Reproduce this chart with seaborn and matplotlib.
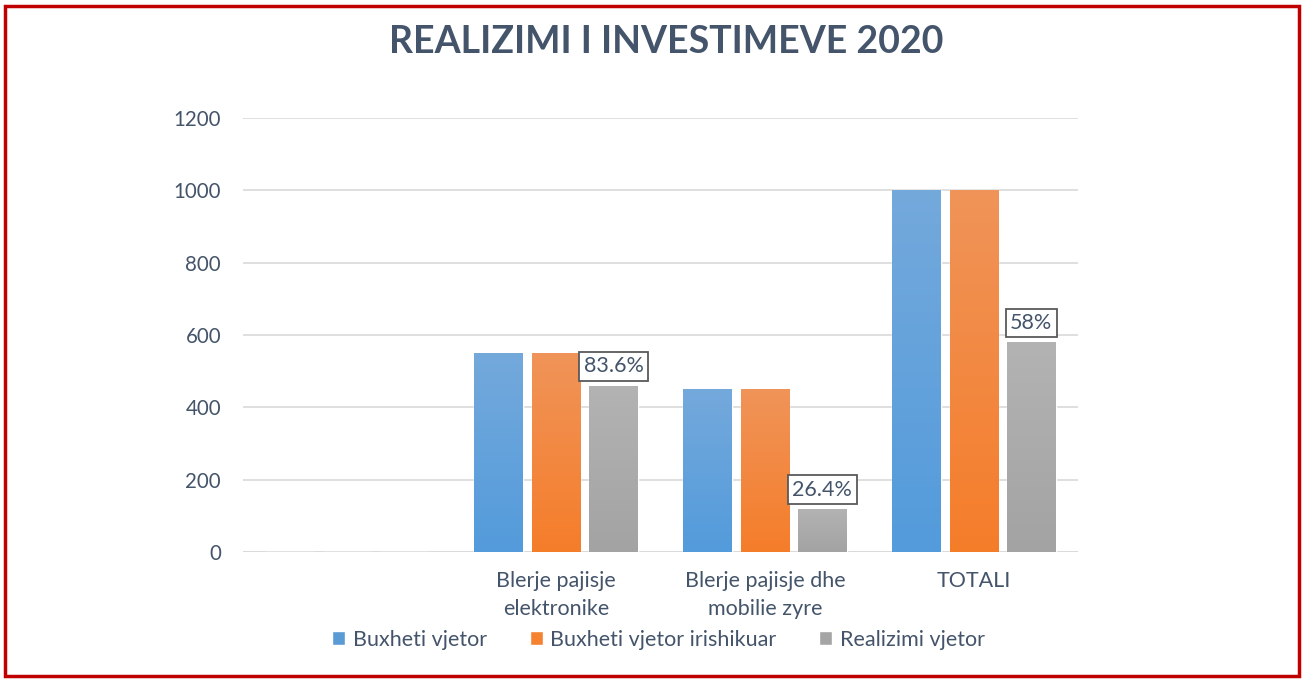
import numpy as np
import pandas as pd
import matplotlib
matplotlib.use("Agg")
import matplotlib.pyplot as plt
import seaborn as sns
from matplotlib.colors import LinearSegmentedColormap, to_rgb
from matplotlib.patches import Rectangle

categories = ["", "Blerje pajisje\nelektronike", "Blerje pajisje dhe\nmobilie zyre", "TOTALI"]
series = ["Buxheti vjetor", "Buxheti vjetor irishikuar", "Realizimi vjetor"]
buxheti = [0, 550, 450, 1000]
irishikuar = [0, 550, 450, 1000]
realizimi = [0, 460, 119, 580]
pct_labels = ["", "83.6%", "26.4%", "58%"]

colors = ["#5B9BD5", "#F58230", "#A5A5A5"]
tops = ["#74A9DC", "#F09459", "#B3B3B3"]
bottoms = ["#539BDB", "#F57D2A", "#A3A3A3"]
text_col = "#44546A"

df = pd.DataFrame({
    "Kategoria": categories * 3,
    "Seria": [s for s in series for _ in categories],
    "Vlera": buxheti + irishikuar + realizimi,
})

sns.set_theme(style="white")
plt.rcParams["font.family"] = ["Lato", "DejaVu Sans"]

fig = plt.figure(figsize=(13.04, 6.79), dpi=100)
ax = fig.add_axes([0.186, 0.187, 0.641, 0.639])

sns.barplot(data=df, x="Kategoria", y="Vlera", hue="Seria", order=categories,
            hue_order=series, palette=colors, width=0.825, gap=0.16,
            saturation=1, ax=ax, legend=True)

# gradient fill on each bar
bars = [p for p in ax.patches if isinstance(p, Rectangle) and p.get_height() > 0]
for p in bars:
    fc = p.get_facecolor()[:3]
    idx = int(np.argmin([np.sum((np.array(fc) - np.array(to_rgb(c))) ** 2) for c in colors]))
    cmap = LinearSegmentedColormap.from_list("g", [bottoms[idx], tops[idx]])
    x0, y0 = p.get_x(), p.get_y()
    w, h = p.get_width(), p.get_height()
    grad = np.linspace(0, 1, 256).reshape(-1, 1)
    im = ax.imshow(grad, cmap=cmap, origin="lower", aspect="auto",
                   extent=[x0, x0 + w, y0, y0 + h], zorder=p.get_zorder() + 0.1)
    im.set_clip_path(p)

# percent labels above the realizimi bars
real_bars = ax.containers[2]
for bar, lab in zip(real_bars, pct_labels):
    if lab:
        ax.text(bar.get_x() + bar.get_width() / 2, bar.get_height() + 26, lab,
                ha="center", va="bottom", fontsize=15.5, color=text_col,
                bbox=dict(boxstyle="square,pad=0.2", fc="white", ec="#595959", lw=1.3),
                zorder=5)

ax.set_xlim(-0.5, 3.5)
ax.set_ylim(0, 1200)
ax.set_yticks(range(0, 1201, 200))
ax.yaxis.grid(True, color="#D9D9D9", lw=1.2)
ax.set_axisbelow(True)
for s in ax.spines.values():
    s.set_visible(False)
ax.axhline(0, color="#D9D9D9", lw=1.2, zorder=0.5)
ax.set_xlabel("")
ax.set_ylabel("")
ax.tick_params(axis="y", labelsize=14.8, colors=text_col, pad=15.5, length=0)
ax.tick_params(axis="x", labelsize=15.5, colors=text_col, pad=14, length=0)
for t in ax.get_xticklabels():
    t.set_linespacing(1.45)

fig.suptitle("REALIZIMI I INVESTIMEVE 2020", x=0.511, y=0.963, fontsize=27,
             fontweight="bold", color=text_col)

handles, labels = ax.get_legend_handles_labels()
ax.get_legend().remove()
fig.legend(handles, labels, loc="center", bbox_to_anchor=(0.505, 0.058), ncol=3,
           frameon=False, fontsize=15.5, handlelength=0.6, handleheight=0.6,
           handletextpad=0.35, columnspacing=2.0, labelcolor=text_col)

fig.patches.append(Rectangle((0.004, 0.004), 0.992, 0.987, transform=fig.transFigure,
                             fill=False, ec="#C00000", lw=2.5))

fig.savefig("out.png", dpi=100, facecolor="white")
